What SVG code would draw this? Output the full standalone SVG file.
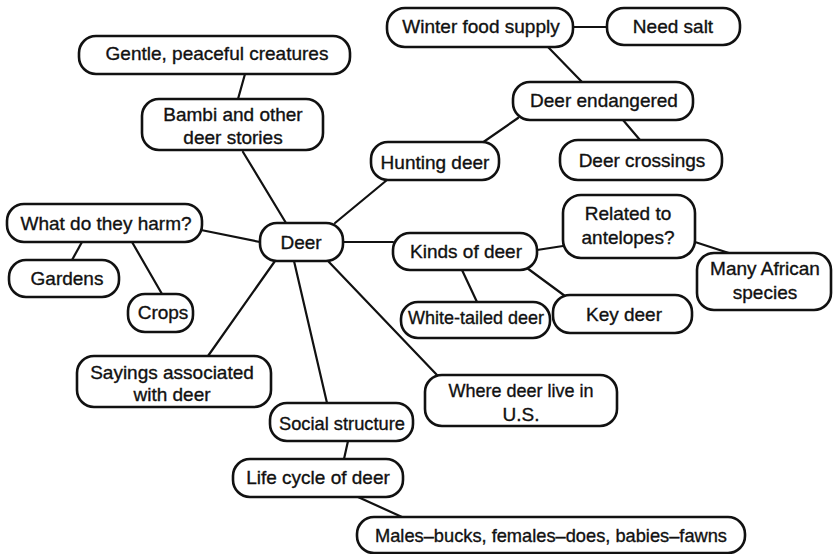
<svg xmlns="http://www.w3.org/2000/svg" width="833" height="554" viewBox="0 0 833 554">
<style>
.n rect{fill:#fff;stroke:#111;stroke-width:2.6}
.n text{font-family:"Liberation Sans",Arial,Helvetica,sans-serif;font-size:19px;fill:#111;stroke:#111;stroke-width:0.35;text-anchor:middle}
#connectors line{stroke:#111;stroke-width:2.2;stroke-linecap:round}
</style>
<rect width="833" height="554" fill="#fff"/>
<g id="connectors">
<line x1="245" y1="74" x2="238" y2="99"/>
<line x1="243" y1="152" x2="286" y2="223"/>
<line x1="201" y1="230" x2="260" y2="242"/>
<line x1="82" y1="242" x2="72" y2="260"/>
<line x1="132" y1="242" x2="162" y2="294"/>
<line x1="275" y1="261" x2="208" y2="356"/>
<line x1="294" y1="261" x2="327" y2="403"/>
<line x1="328" y1="261" x2="437" y2="375"/>
<line x1="387" y1="180" x2="335" y2="223"/>
<line x1="343" y1="242" x2="393" y2="242"/>
<line x1="573" y1="27" x2="607" y2="27"/>
<line x1="548" y1="47" x2="582" y2="82"/>
<line x1="518" y1="118" x2="482" y2="143"/>
<line x1="623" y1="120" x2="640" y2="140"/>
<line x1="537" y1="250" x2="563" y2="246"/>
<line x1="695" y1="242" x2="735" y2="255"/>
<line x1="462" y1="270" x2="477" y2="302"/>
<line x1="527" y1="268" x2="565" y2="296"/>
<line x1="348" y1="441" x2="344" y2="459"/>
<line x1="358" y1="497" x2="402" y2="517"/>
</g>
<g id="gentle" class="n"><rect x="79" y="36" width="271" height="38" rx="17"/><text x="217" y="60">Gentle, peaceful creatures</text></g>
<g id="bambi" class="n"><rect x="142" y="99" width="181" height="51" rx="17"/><text x="233" y="121">Bambi and other</text><text x="233" y="144">deer stories</text></g>
<g id="winter" class="n"><rect x="387" y="8" width="186" height="39" rx="18"/><text x="481" y="33">Winter food supply</text></g>
<g id="salt" class="n"><rect x="607" y="8" width="133" height="37" rx="17"/><text x="673" y="33">Need salt</text></g>
<g id="endangered" class="n"><rect x="513" y="82" width="180" height="38" rx="17"/><text x="604" y="107">Deer endangered</text></g>
<g id="hunting" class="n"><rect x="371" y="142" width="128" height="38" rx="17"/><text x="435" y="169">Hunting deer</text></g>
<g id="crossings" class="n"><rect x="560" y="140" width="162" height="40" rx="18"/><text x="642" y="167">Deer crossings</text></g>
<g id="deer" class="n"><rect x="260" y="223" width="83" height="38" rx="17"/><text x="301" y="249">Deer</text></g>
<g id="harm" class="n"><rect x="7" y="204" width="195" height="38" rx="17"/><text x="106" y="230">What do they harm?</text></g>
<g id="gardens" class="n"><rect x="9" y="260" width="110" height="37" rx="17"/><text x="67" y="285">Gardens</text></g>
<g id="crops" class="n"><rect x="128" y="294" width="65" height="38" rx="17"/><text x="163" y="319">Crops</text></g>
<g id="sayings" class="n"><rect x="77" y="356" width="194" height="51" rx="17"/><text x="172" y="379">Sayings associated</text><text x="172" y="401">with deer</text></g>
<g id="kinds" class="n"><rect x="393" y="233" width="144" height="37" rx="17"/><text x="466" y="258">Kinds of deer</text></g>
<g id="related" class="n"><rect x="563" y="195" width="132" height="63" rx="18"/><text x="628" y="220">Related to</text><text x="628" y="244">antelopes?</text></g>
<g id="african" class="n"><rect x="697" y="253" width="134" height="57" rx="17"/><text x="765" y="275">Many African</text><text x="765" y="299">species</text></g>
<g id="white" class="n"><rect x="401" y="302" width="149" height="36" rx="17"/><text x="476" y="324" textLength="136" lengthAdjust="spacingAndGlyphs">White-tailed deer</text></g>
<g id="key" class="n"><rect x="553" y="295" width="139" height="38" rx="17"/><text x="624" y="321">Key deer</text></g>
<g id="where" class="n"><rect x="425" y="375" width="192" height="51" rx="17"/><text x="521" y="397" textLength="145" lengthAdjust="spacingAndGlyphs">Where deer live in</text><text x="521" y="421">U.S.</text></g>
<g id="social" class="n"><rect x="270" y="403" width="143" height="38" rx="17"/><text x="342" y="430" textLength="126" lengthAdjust="spacingAndGlyphs">Social structure</text></g>
<g id="life" class="n"><rect x="233" y="459" width="170" height="38" rx="17"/><text x="318" y="484">Life cycle of deer</text></g>
<g id="males" class="n"><rect x="357" y="517" width="388" height="36" rx="17"/><text x="551" y="542" textLength="352" lengthAdjust="spacingAndGlyphs">Males–bucks, females–does, babies–fawns</text></g>
</svg>
